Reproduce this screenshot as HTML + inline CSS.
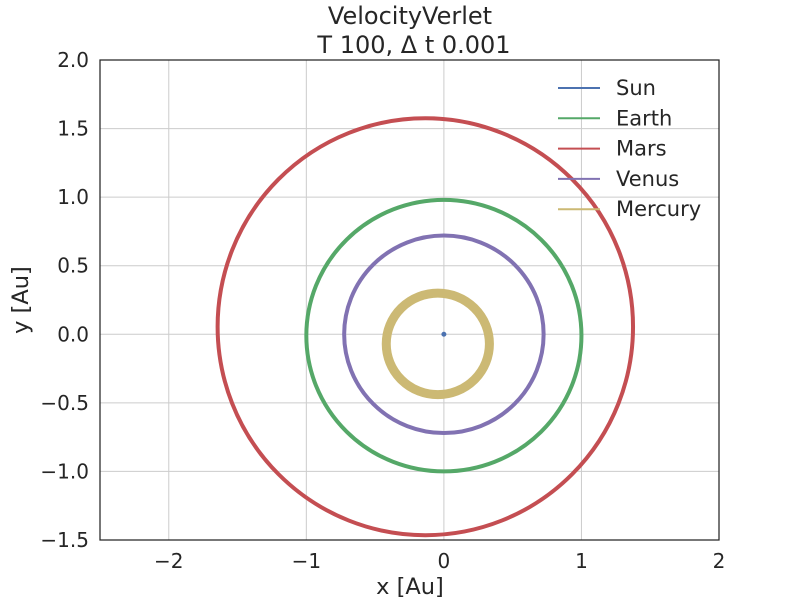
<!DOCTYPE html>
<html><head><meta charset="utf-8"><style>
body{margin:0;background:#fff;font-family:"Liberation Sans","DejaVu Sans",sans-serif}
svg text{font-family:"DejaVu Sans","Liberation Sans",sans-serif;fill:#262626}
</style></head><body>
<svg id="chart" width="800" height="600">
<g id="grid"></g>
<g id="orbits"></g>
<rect x="100" y="60" width="619" height="480" fill="none" stroke="#262626" stroke-width="1.25"/>
<g id="ticks"></g>
<text x="410" y="24" text-anchor="middle" font-size="24">VelocityVerlet</text>
<text x="414" y="53" text-anchor="middle" font-size="24">T 100, Δ t 0.001</text>
<text x="410" y="594" text-anchor="middle" font-size="22.5">x [Au]</text>
<text x="28" y="300" text-anchor="middle" font-size="22.5" transform="rotate(-90 28 300)">y [Au]</text>
<g id="legend"></g>
</svg>
<script>
const names=["Sun","Earth","Mars","Venus","Mercury"];
const colors=["#4c72b0","#55a868","#c44e52","#8172b2","#ccb974"];
const centerX=[0,0,-0.135,0,-0.044];
const centerY=[0,-0.01,0.055,0,-0.07];
const radiusX=[0,1.0,1.51,0.725,0.375];
const radiusY=[0,0.99,1.52,0.72,0.37];
const xTicks=[-2,-1,0,1,2];
const yTicks=[-1.5,-1.0,-0.5,0.0,0.5,1.0,1.5,2.0];
const xMin=-2.5,xMax=2,yMin=-1.5,yMax=2;
const L=100,R=719,T=60,B=540;
const sx=v=>L+(v-xMin)/(xMax-xMin)*(R-L);
const sy=v=>B-(v-yMin)/(yMax-yMin)*(B-T);
const NS="http://www.w3.org/2000/svg";
function mk(tag,parent,attrs){const e=document.createElementNS(NS,tag);for(const k in attrs)e.setAttribute(k,attrs[k]);parent.appendChild(e);return e;}
const grid=document.getElementById('grid'),ticks=document.getElementById('ticks');
xTicks.forEach(v=>{
 const g=mk('line',grid,{x1:sx(v),x2:sx(v),y1:T,y2:B,stroke:'#cccccc','stroke-width':1});
 
 
 const t=mk('text',ticks,{x:sx(v),y:B+28,'text-anchor':'middle','font-size':20});
 t.textContent=(v<0?'\u2212':'')+Math.abs(v);
 
 
});
yTicks.forEach(v=>{
 const g=mk('line',grid,{x1:L,x2:R,y1:sy(v),y2:sy(v),stroke:'#cccccc','stroke-width':1});
 
 
 const t=mk('text',ticks,{x:L-11,y:sy(v)+7,'text-anchor':'end','font-size':20});
 t.textContent=(v<0?'\u2212':'')+Math.abs(v).toFixed(1);
 
 
});
const orb=document.getElementById('orbits');
const kx=(R-L)/(xMax-xMin),ky=(B-T)/(yMax-yMin);
names.forEach((n,i)=>{
 let e;
 if(radiusX[i]===0){e=mk('circle',orb,{cx:sx(centerX[i]),cy:sy(centerY[i]),r:2.5,fill:colors[i]});}
 else e=mk('ellipse',orb,{cx:sx(centerX[i]),cy:sy(centerY[i]),rx:radiusX[i]*kx,ry:radiusY[i]*ky,fill:'none',stroke:colors[i],'stroke-width':n==='Mercury'?9:4});
 
 
});
const lg=document.getElementById('legend');
names.forEach((n,i)=>{
 const y=88+i*30.3;
 const l=mk('line',lg,{x1:558,x2:600,y1:y,y2:y,stroke:colors[i],'stroke-width':2});
 
 
 const t=mk('text',lg,{x:616,y:y+7,'font-size':21});
 t.textContent=n;
 
 
});
</script>
</body></html>
